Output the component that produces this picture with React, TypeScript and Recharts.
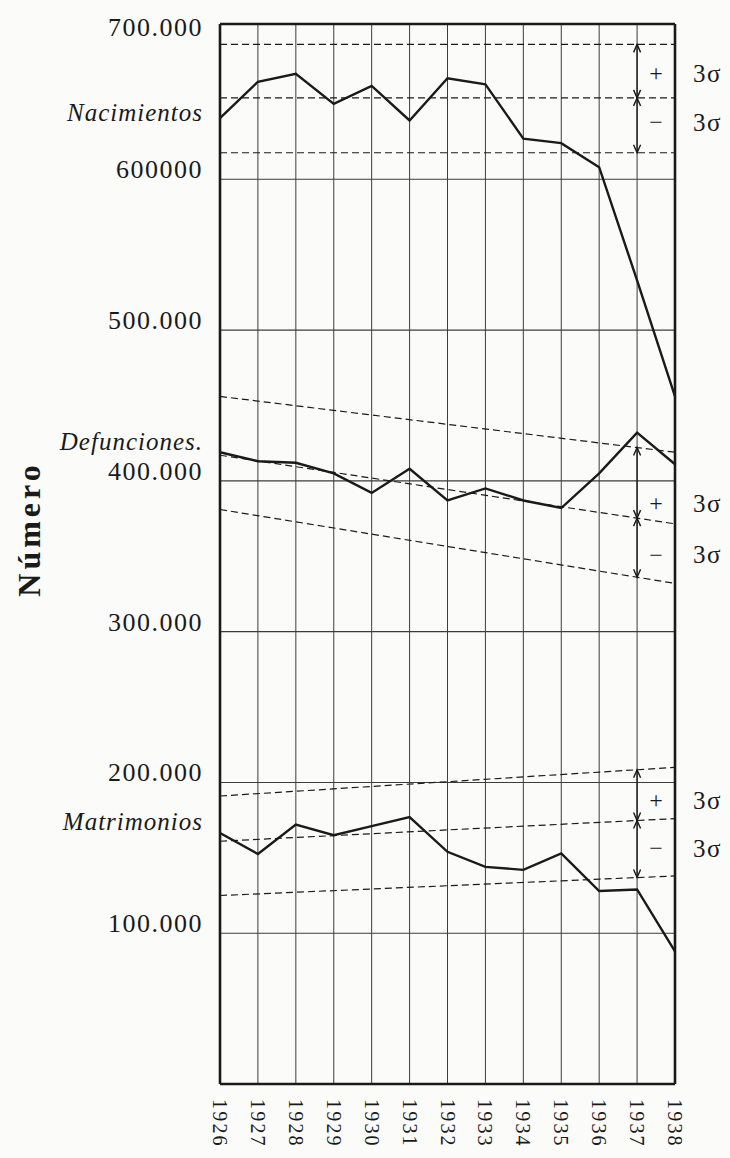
import React from 'react';
import {
  CartesianGrid,
  Line,
  LineChart,
  ReferenceDot,
  ReferenceLine,
  XAxis,
  YAxis,
} from 'recharts';

// Movimiento natural de la población, 1926-1938
const years = [1926, 1927, 1928, 1929, 1930, 1931, 1932, 1933, 1934, 1935, 1936, 1937, 1938];
const nacimientos = [640500, 664700, 670000, 650000, 662000, 639000, 667000, 663000, 627000, 624000, 608000, 533000, 456000];
const defunciones = [419000, 413000, 412000, 405000, 392000, 408000, 387000, 395000, 387000, 382000, 405000, 432000, 411000];
const matrimonios = [166500, 152500, 172000, 165000, 171000, 177000, 154000, 144000, 142000, 153000, 128000, 129000, 88000];

// tendencia y límites ±3σ, valores en 1926 y en 1938
const nacMedia = [654000, 654000];
const nacSup = [689500, 689500];
const nacInf = [617600, 617600];
const defMedia = [417000, 371500];
const defSup = [456000, 419000];
const defInf = [381000, 332000];
const matMedia = [161000, 176000];
const matSup = [191000, 210000];
const matInf = [125000, 138000];

const yTicks = [100000, 200000, 300000, 400000, 500000, 600000, 700000];
const yTickLabels = ['100.000', '200.000', '300.000', '400.000', '500.000', '600000', '700.000'];

const Y_MAX = 703000;
const FIRST = years[0];
const LAST = years[years.length - 1];
const MARK_YEAR = 1937;
const INK = '#1a1a1a';
const GRID = '#3c3c3c';
const SERIF = "'Liberation Serif', 'DejaVu Serif', serif";

const series = [
  { key: 'nac', name: 'Nacimientos', values: nacimientos, media: nacMedia, sup: nacSup, inf: nacInf, nameDy: 3, plusDy: 2, minusDy: -3 },
  { key: 'def', name: 'Defunciones.', values: defunciones, media: defMedia, sup: defSup, inf: defInf, nameDy: -2, plusDy: 18, minusDy: 4 },
  { key: 'mat', name: 'Matrimonios', values: matrimonios, media: matMedia, sup: matSup, inf: matInf, nameDy: -3, plusDy: 6, minusDy: 0 },
];

// value of a straight trend line at a given year
const along = (pair: number[], year: number) =>
  pair[0] + ((pair[1] - pair[0]) * (year - FIRST)) / (LAST - FIRST);

const rows = years.map((year, i) => {
  const row: Record<string, number | null> = { year };
  series.forEach((s) => {
    row[s.key] = s.values[i];
    const edge = i === 0 ? 0 : i === years.length - 1 ? 1 : -1;
    row[s.key + 'Media'] = edge < 0 ? null : s.media[edge];
    row[s.key + 'Sup'] = edge < 0 ? null : s.sup[edge];
    row[s.key + 'Inf'] = edge < 0 ? null : s.inf[edge];
  });
  return row;
});

const NumTick = (props: any) => {
  const { y, payload } = props;
  const i = yTicks.indexOf(payload.value);
  const isTop = payload.value === yTicks[yTicks.length - 1];
  return (
    <text
      x={203}
      y={y + (isTop ? 7 : -1)}
      textAnchor="end"
      fontFamily={SERIF}
      fontSize={26}
      letterSpacing={1.5}
      fill={INK}
    >
      {yTickLabels[i]}
    </text>
  );
};

const YEAR_TOP = 1099;
const YearTick = (props: any) => {
  const { x, payload } = props;
  return (
    <text
      x={x}
      y={YEAR_TOP}
      dy={7}
      transform={`rotate(90 ${x} ${YEAR_TOP})`}
      textAnchor="start"
      fontFamily={SERIF}
      fontSize={20}
      letterSpacing={2.2}
      fill={INK}
    >
      {payload.value}
    </text>
  );
};

const arrowHead = (dir: 'up' | 'down') => (p: any) => {
  const s = dir === 'up' ? 1 : -1;
  return (
    <path
      d={`M${p.cx - 3.5},${p.cy + 8 * s} L${p.cx},${p.cy} L${p.cx + 3.5},${p.cy + 8 * s}`}
      fill="none"
      stroke={INK}
      strokeWidth={1.4}
    />
  );
};

const textShape = (label: string, dx: number, dy: number, anchor: string, size: number, spacing: number, italic = false) => (p: any) => (
  <text
    x={p.cx + dx}
    y={p.cy + dy}
    textAnchor={anchor}
    dominantBaseline={italic ? 'auto' : 'central'}
    fontFamily={SERIF}
    fontStyle={italic ? 'italic' : 'normal'}
    fontSize={size}
    letterSpacing={spacing}
    fill={INK}
  >
    {label}
  </text>
);

export default function App() {
  return (
    <div style={{ position: 'absolute', left: 0, top: 0, width: 730, height: 1158, background: '#fbfbf9' }}>
      <LineChart width={730} height={1158} data={rows} margin={{ top: 24, right: 55, bottom: 0, left: 0 }}>
        <CartesianGrid horizontal={false} stroke={GRID} strokeWidth={1} />
        <XAxis
          dataKey="year"
          type="number"
          domain={[FIRST, LAST]}
          ticks={years}
          interval={0}
          tick={<YearTick />}
          tickLine={false}
          axisLine={false}
          height={74}
        />
        <YAxis
          type="number"
          domain={[0, Y_MAX]}
          ticks={yTicks}
          interval={0}
          tick={<NumTick />}
          tickLine={false}
          axisLine={false}
          width={220}
          allowDataOverflow
          label={{
            content: () => (
              <text
                x={29}
                y={529}
                transform="rotate(-90 29 529)"
                textAnchor="middle"
                dominantBaseline="central"
                fontFamily={SERIF}
                fontWeight="bold"
                fontSize={32}
                letterSpacing={4}
                fill={INK}
              >
                Número
              </text>
            ),
          }}
        />

        {yTicks.filter((v) => v < 700000).map((v) => (
          <ReferenceLine key={v} y={v} stroke={GRID} strokeWidth={1.1} />
        ))}

        {series.map((s) => [
          <Line key={s.key + 'Sup'} dataKey={s.key + 'Sup'} stroke={INK} strokeWidth={1.2} strokeDasharray="7 4" dot={false} connectNulls isAnimationActive={false} />,
          <Line key={s.key + 'Media'} dataKey={s.key + 'Media'} stroke={INK} strokeWidth={1.2} strokeDasharray="7 4" dot={false} connectNulls isAnimationActive={false} />,
          <Line key={s.key + 'Inf'} dataKey={s.key + 'Inf'} stroke={INK} strokeWidth={1.2} strokeDasharray="7 4" dot={false} connectNulls isAnimationActive={false} />,
          <Line key={s.key} dataKey={s.key} stroke={INK} strokeWidth={2.4} dot={false} isAnimationActive={false} />,
        ])}

        {/* frame */}
        <ReferenceLine x={FIRST} stroke={INK} strokeWidth={2.6} />
        <ReferenceLine x={LAST} stroke={INK} strokeWidth={2.6} />
        <ReferenceLine y={0} stroke={INK} strokeWidth={2.6} />
        <ReferenceLine y={Y_MAX} stroke={INK} strokeWidth={2.6} />

        {series.map((s) => {
          const sup = along(s.sup, MARK_YEAR);
          const med = along(s.media, MARK_YEAR);
          const inf = along(s.inf, MARK_YEAR);
          const midX = MARK_YEAR + 0.5;
          const plusY = (along(s.sup, midX) + along(s.media, midX)) / 2;
          const minusY = (along(s.media, midX) + along(s.inf, midX)) / 2;
          return [
            <ReferenceLine
              key={s.key + 'arrow'}
              segment={[{ x: MARK_YEAR, y: sup }, { x: MARK_YEAR, y: inf }]}
              stroke={INK}
              strokeWidth={1.3}
            />,
            <ReferenceDot key={s.key + 'a1'} x={MARK_YEAR} y={sup} shape={arrowHead('up')} />,
            <ReferenceDot key={s.key + 'a2'} x={MARK_YEAR} y={med} shape={arrowHead('down')} />,
            <ReferenceDot key={s.key + 'a3'} x={MARK_YEAR} y={med} shape={arrowHead('up')} />,
            <ReferenceDot key={s.key + 'a4'} x={MARK_YEAR} y={inf} shape={arrowHead('down')} />,
            <ReferenceDot key={s.key + 'plus'} x={midX} y={plusY} shape={textShape('+', 0, s.plusDy, 'middle', 24, 0)} />,
            <ReferenceDot key={s.key + 'minus'} x={midX} y={minusY} shape={textShape('−', 0, s.minusDy, 'middle', 24, 0)} />,
            <ReferenceDot key={s.key + 's1'} x={LAST} y={plusY} shape={textShape('3σ', 18, s.plusDy, 'start', 25, 1.5)} />,
            <ReferenceDot key={s.key + 's2'} x={LAST} y={minusY} shape={textShape('3σ', 18, s.minusDy, 'start', 25, 1.5)} />,
            <ReferenceDot key={s.key + 'name'} x={FIRST} y={s.values[0]} shape={textShape(s.name, -17, s.nameDy, 'end', 25, 1, true)} />,
          ];
        })}
      </LineChart>
    </div>
  );
}
